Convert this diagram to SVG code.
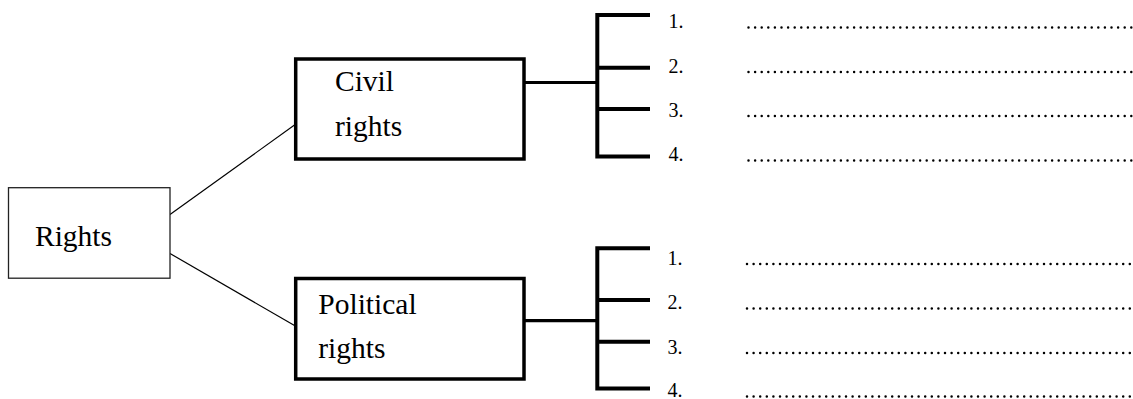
<svg xmlns="http://www.w3.org/2000/svg" width="1133" height="399" viewBox="0 0 1133 399">
<style>
text{font-family:'Liberation Serif','DejaVu Serif',serif;fill:#000}
.lbl{font-size:29.5px}
.num{font-size:20px}
.thick{fill:#fff;stroke:#000;stroke-width:3.5}
.thin{fill:#fff;stroke:#222;stroke-width:1.3}
.link{fill:none;stroke:#000;stroke-width:1.2}
.br{fill:none;stroke:#000;stroke-width:4;stroke-linecap:butt}
.conn{fill:none;stroke:#000;stroke-width:3.2}
.dots{fill:none;stroke:#000;stroke-width:2.5;stroke-linecap:round;stroke-dasharray:0 6.6}
</style>
<rect width="1133" height="399" fill="#fff"/>
<g id="connectors">
<line class="link" x1="170" y1="214.5" x2="294.5" y2="125"/>
<line class="link" x1="170" y1="253.5" x2="294.5" y2="325.5"/>
<line class="conn" x1="524" y1="82.5" x2="597" y2="82.5"/>
<line class="conn" x1="524" y1="320.7" x2="597" y2="320.7"/>
</g>
<g id="rights">
<rect class="thin" x="8.5" y="187.7" width="161.5" height="90.5"/>
<text class="lbl" font-family="Liberation Serif, serif" x="35" y="246">Rights</text>
</g>
<g id="civil">
<rect class="thick" x="295.7" y="59" width="228.3" height="100"/>
<text class="lbl" font-family="Liberation Serif, serif" x="335" y="90.7">Civil</text>
<text class="lbl" font-family="Liberation Serif, serif" x="335" y="135.7">rights</text>
</g>
<g id="political">
<rect class="thick" x="295.7" y="278.5" width="228.3" height="100.5"/>
<text class="lbl" font-family="Liberation Serif, serif" x="318.3" y="314.3">Political</text>
<text class="lbl" font-family="Liberation Serif, serif" x="318.3" y="357.7">rights</text>
</g>
<g id="civil-list" font-family="Liberation Serif, serif">
<path class="br" d="M650 15H597.3V156.5H650M597.3 67.7H650M597.3 109H650"/>
<text class="num" x="668.5" y="28.3">1.</text>
<text class="num" x="668.5" y="72.7">2.</text>
<text class="num" x="668.5" y="117.3">3.</text>
<text class="num" x="668.5" y="160.5">4.</text>
<line class="dots" x1="748.5" y1="27.5" x2="1133" y2="27.5"/>
<line class="dots" x1="748.5" y1="72" x2="1133" y2="72"/>
<line class="dots" x1="748.5" y1="116" x2="1133" y2="116"/>
<line class="dots" x1="748.5" y1="160.5" x2="1133" y2="160.5"/>
</g>
<g id="political-list" font-family="Liberation Serif, serif">
<path class="br" d="M650 248.3H597.3V388.5H650M597.3 300H650M597.3 341.7H650"/>
<text class="num" x="667.5" y="265">1.</text>
<text class="num" x="667.5" y="309.3">2.</text>
<text class="num" x="667.5" y="353.5">3.</text>
<text class="num" x="667.5" y="396.5">4.</text>
<line class="dots" x1="747" y1="264" x2="1133" y2="264"/>
<line class="dots" x1="747" y1="308.5" x2="1133" y2="308.5"/>
<line class="dots" x1="747" y1="353" x2="1133" y2="353"/>
<line class="dots" x1="747" y1="396.5" x2="1133" y2="396.5"/>
</g>
</svg>
